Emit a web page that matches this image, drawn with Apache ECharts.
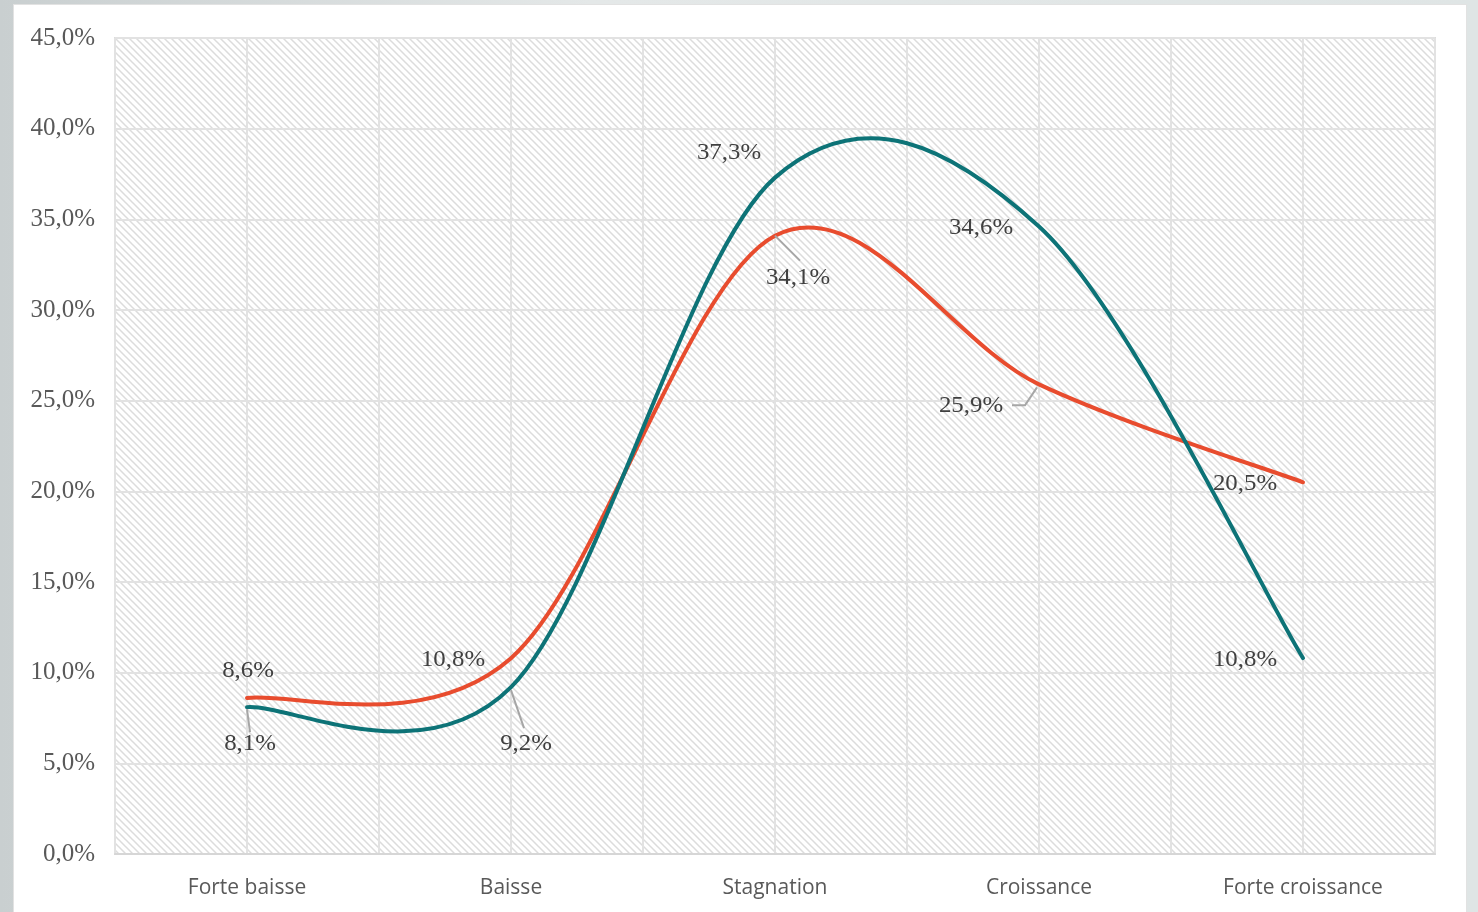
<!DOCTYPE html>
<html>
<head>
<meta charset="utf-8">
<script src="https://cdn.jsdelivr.net/npm/echarts@6/dist/echarts.min.js"></script>
<style>
  html, body { margin: 0; padding: 0; width: 1478px; height: 912px; overflow: hidden;
    background: linear-gradient(90deg, #c9cfd0 0%, #e4e8e8 40%, #dfe5e5 100%); }
  #frame { position: absolute; left: 13px; top: 4px; width: 1454px; height: 920px;
    background: #ffffff; border: 1px solid #e2e2e2; box-sizing: border-box; }
  #chart { position: absolute; left: 0; top: 0; width: 1478px; height: 912px; }
</style>
</head>
<body>
<div id="frame"></div>
<div id="chart"></div>
<script>
// Categories and the two series (percentages)
const categories = ['Forte baisse', 'Baisse', 'Stagnation', 'Croissance', 'Forte croissance'];
const seriesOrange = [8.6, 10.8, 34.1, 25.9, 20.5];
const seriesTeal = [8.1, 9.2, 37.3, 34.6, 10.8];
const yTicks = [0, 5, 10, 15, 20, 25, 30, 35, 40, 45];

// Label placement relative to each point [dx, dy] (px)
const orangeLabelShift = [[1, -27], [-58, 2], [23, 42], [-68, 22], [-58, 2]];
const tealLabelShift = [[3, 37], [15, 57], [-46, -25], [-58, 1], [-58, 2]];
// Leader lines, as polylines relative to the point (px); null = none
const orangeLeaders = [null, null, [[0, 0], [25, 25]], [[-2, 3], [-14, 21], [-27, 21]], null];
const tealLeaders = [[[0, 2], [3, 25]], [[0, 3], [13, 41]], null, null, null];

const COLORS = { orange: '#e84c2e', teal: '#0d7377', leader: '#a6a6a6', label: '#404040' };
const fmt = v => v.toFixed(1).replace('.', ',') + '%';

// Diagonal hatch tile for the plot area
function hatch() {
  const s = 7;
  const c = document.createElement('canvas');
  c.width = s; c.height = s;
  const g = c.getContext('2d');
  g.fillStyle = '#ffffff';
  g.fillRect(0, 0, s, s);
  g.strokeStyle = '#dcdcdc';
  g.lineWidth = 1.5;
  g.beginPath();
  g.moveTo(-1, -1); g.lineTo(s + 1, s + 1);
  g.moveTo(-1, s - 1); g.lineTo(1, s + 1);
  g.moveTo(s - 1, -1); g.lineTo(s + 1, 1);
  g.stroke();
  return c;
}

// Smoothed curve through the points (cardinal spline, 1/6 tangent factor)
function smoothPath(pts) {
  let d = 'M' + pts[0][0] + ' ' + pts[0][1];
  for (let i = 0; i < pts.length - 1; i++) {
    const p0 = pts[Math.max(i - 1, 0)], p1 = pts[i], p2 = pts[i + 1], p3 = pts[Math.min(i + 2, pts.length - 1)];
    const c1 = [p1[0] + (p2[0] - p0[0]) / 6, p1[1] + (p2[1] - p0[1]) / 6];
    const c2 = [p2[0] - (p3[0] - p1[0]) / 6, p2[1] - (p3[1] - p1[1]) / 6];
    d += ' C' + c1[0] + ' ' + c1[1] + ' ' + c2[0] + ' ' + c2[1] + ' ' + p2[0] + ' ' + p2[1];
  }
  return d;
}

function curveSeries(values, color, z) {
  return {
    type: 'custom',
    z: z,
    silent: true,
    data: values.map((v, i) => [i, v]),
    renderItem: (params, api) => {
      if (params.dataIndex !== 0) return null;
      const pts = values.map((v, i) => api.coord([i, v]));
      return {
        type: 'path',
        shape: { pathData: smoothPath(pts) },
        style: { fill: null, stroke: color, lineWidth: 4, lineCap: 'round', lineJoin: 'round' }
      };
    }
  };
}

function labelSeries(values, shifts, leaders, z) {
  return {
    type: 'custom',
    z: z,
    silent: true,
    data: values.map((v, i) => [i, v]),
    renderItem: (params, api) => {
      const i = params.dataIndex;
      const p = api.coord([i, values[i]]);
      const children = [];
      if (leaders[i]) {
        children.push({
          type: 'polyline',
          shape: { points: leaders[i].map(o => [p[0] + o[0], p[1] + o[1]]) },
          style: { fill: null, stroke: COLORS.leader, lineWidth: 2 }
        });
      }
      const tx = p[0] + shifts[i][0], ty = p[1] + shifts[i][1];
      children.push({
        type: 'text',
        x: tx, y: ty, scaleX: 1.08,
        style: {
          text: fmt(values[i]),
          x: 0, y: 0,
          align: 'center', verticalAlign: 'middle',
          fontFamily: 'Liberation Serif', fontSize: 23, fill: COLORS.label
        }
      });
      return { type: 'group', children: children };
    }
  };
}

const chart = echarts.init(document.getElementById('chart'), null, { renderer: 'canvas' });

chart.setOption({
  animation: false,
  grid: {
    left: 115, right: 43, top: 38, bottom: 58,
    show: true,
    backgroundColor: { image: hatch(), repeat: 'repeat' },
    borderColor: '#dcdcdc', borderWidth: 2
  },
  xAxis: [{
    type: 'category',
    data: categories,
    boundaryGap: true,
    axisLine: { show: true, lineStyle: { color: '#d6d6d6', width: 2 } },
    axisTick: { show: false },
    axisLabel: { margin: 24, fontFamily: 'Open Sans', fontSize: 21, color: '#595959' },
    splitLine: { show: true, lineStyle: { color: '#e2e2e2', width: 2 } }
  }, {
    // half-category guide lines
    type: 'value', min: 0, max: 10, interval: 1,
    position: 'bottom',
    axisLine: { show: false }, axisTick: { show: false }, axisLabel: { show: false },
    splitLine: { show: true, lineStyle: { color: '#e2e2e2', width: 2 } }
  }],
  yAxis: {
    type: 'value',
    min: yTicks[0], max: yTicks[yTicks.length - 1], interval: 5,
    axisLine: { show: false },
    axisTick: { show: false },
    axisLabel: {
      margin: 20, fontFamily: 'Liberation Serif', fontSize: 25, color: '#595959',
      formatter: v => fmt(v)
    },
    splitLine: { show: true, lineStyle: { color: '#e2e2e2', width: 2 } }
  },
  series: [
    curveSeries(seriesOrange, COLORS.orange, 3),
    curveSeries(seriesTeal, COLORS.teal, 4),
    labelSeries(seriesOrange, orangeLabelShift, orangeLeaders, 6),
    labelSeries(seriesTeal, tealLabelShift, tealLeaders, 6)
  ]
});
</script>
</body>
</html>
